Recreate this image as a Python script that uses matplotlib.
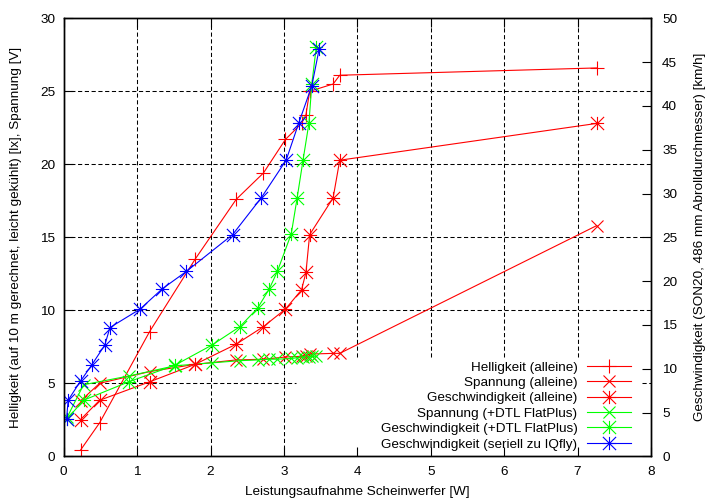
import numpy as np
import matplotlib
matplotlib.use("Agg")
import matplotlib.pyplot as plt
from matplotlib.path import Path

plt.rcParams['font.family'] = ['Liberation Sans', 'DejaVu Sans']
plt.rcParams['font.size'] = 9.7

# ---- data ----
# power [W] for measurements "alleine"
x_alleine = [0.23, 0.49, 1.17, 1.79, 2.35, 2.72, 3.02, 3.24, 3.30, 3.35, 3.67, 3.76, 7.26]
helligkeit_alleine = [0.43, 2.30, 8.54, 13.5, 17.6, 19.4, 21.7, 22.8, 23.4, 25.0, 25.5, 26.1, 26.6]
spannung_alleine = [3.8, 5.0, 5.8, 6.3, 6.6, 6.65, 6.8, 6.85, 6.9, 7.0, 7.05, 7.05, 15.8]
geschw_alleine = [4.2, 6.4, 8.5, 10.5, 12.8, 14.8, 16.8, 19.0, 21.0, 25.3, 29.5, 33.8, 38.0]

# power [W] for measurements with DTL FlatPlus
x_dtl = [0.05, 0.27, 0.885, 1.515, 2.02, 2.40, 2.64, 2.80, 2.91, 3.10, 3.18, 3.26, 3.34, 3.38, 3.44]
spannung_dtl = [2.7, 4.9, 5.5, 6.2, 6.4, 6.55, 6.6, 6.65, 6.65, 6.7, 6.75, 6.8, 6.8, 6.85, 6.85]
geschw_dtl = [4.3, 6.4, 8.5, 10.4, 12.7, 14.8, 16.9, 19.1, 21.1, 25.4, 29.5, 33.8, 38.0, 42.5, 46.7]

# power [W] in series with IQfly
x_iq = [0.04, 0.06, 0.23, 0.38, 0.56, 0.63, 1.04, 1.34, 1.67, 2.30, 2.69, 3.03, 3.20, 3.38, 3.48]
geschw_iq = [4.3, 6.4, 8.6, 10.4, 12.7, 14.7, 16.8, 19.1, 21.1, 25.3, 29.5, 33.8, 38.0, 42.3, 46.5]

labels = ["Helligkeit (alleine)", "Spannung (alleine)", "Geschwindigkeit (alleine)",
          "Spannung (+DTL FlatPlus)", "Geschwindigkeit (+DTL FlatPlus)",
          "Geschwindigkeit (seriell zu IQfly)"]

# gnuplot-style star marker (+ and x combined)
star = Path([(-1, 0), (1, 0), (0, -1), (0, 1), (-1, -1), (1, 1), (-1, 1), (1, -1)],
            [Path.MOVETO, Path.LINETO] * 4)

RED, GREEN, BLUE = '#ff0000', '#00ff00', '#0000ff'
lw = 0.8
ms = 9.5
mew = 0.8
FS = 9.7

fig = plt.figure(figsize=(7.13, 5.0), dpi=100)
AX_L, AX_R, AX_T, AX_B = 63.7, 651.0, 18.3, 456.3
W = AX_R - AX_L
H = AX_B - AX_T
ax = fig.add_axes([AX_L / 713, 1 - AX_B / 500, W / 713, H / 500])
ax2 = ax.twinx()

ax.set_xlim(0, 8)
ax.set_ylim(0, 30)
ax2.set_ylim(0, 50)
ax.set_xticks(range(0, 9))
ax.set_yticks(range(0, 31, 5))
ax2.set_yticks(range(0, 51, 5))

# grid (blanked behind the key region like gnuplot)
gkw = dict(color='black', lw=0.75, ls=(0, (4, 2.5)), zorder=0.5)
key_x0, key_y1 = 3.17, 6.82
for xv in range(1, 8):
    y0 = key_y1 if xv >= 4 else 0
    ax.plot([xv, xv], [y0, 30], **gkw)
for yv in range(5, 30, 5):
    if yv <= key_y1:
        ax.plot([0, key_x0], [yv, yv], **gkw)
        ax.plot([7.88, 8], [yv, yv], **gkw)
    else:
        ax.plot([0, 8], [yv, yv], **gkw)

h1, = ax.plot(x_alleine, helligkeit_alleine, color=RED, lw=lw, marker='+', ms=ms, mew=mew)
h2, = ax.plot(x_alleine, spannung_alleine, color=RED, lw=lw, marker='x', ms=ms * 0.95, mew=mew)
h3, = ax2.plot(x_alleine, geschw_alleine, color=RED, lw=lw, marker=star, ms=ms, mew=mew, mfc='none')
h4, = ax.plot(x_dtl, spannung_dtl, color=GREEN, lw=lw, marker='x', ms=ms * 0.95, mew=mew)
h5, = ax2.plot(x_dtl, geschw_dtl, color=GREEN, lw=lw, marker=star, ms=ms, mew=mew, mfc='none')
h6, = ax2.plot(x_iq, geschw_iq, color=BLUE, lw=lw, marker=star, ms=ms, mew=mew, mfc='none')

for a in (ax, ax2):
    for s in a.spines.values():
        s.set_linewidth(1.0)
ax.tick_params(axis='x', direction='in', length=6.5, width=0.8, top=True, pad=7, labelsize=FS)
ax.tick_params(axis='y', direction='in', length=6.5, width=0.8, right=False, pad=6, labelsize=FS)
ax2.tick_params(axis='y', direction='in', length=6.5, width=0.8, pad=8, labelsize=FS)

ax.set_xlabel("Leistungsaufnahme Scheinwerfer [W]", fontsize=FS)
ax.xaxis.label.set_va('center')
ax.xaxis.set_label_coords(0.5, (AX_B - 491.5) / H)
ax.set_ylabel("Helligkeit (auf 10 m gerechnet, leicht gekühlt) [lx], Spannung [V]", fontsize=FS)
ax.yaxis.label.set_va('center')
ax.yaxis.set_label_coords((16 - AX_L) / W, 0.5)
ax2.set_ylabel("Geschwindigkeit (SON20, 486 mm Abrolldurchmesser) [km/h]", rotation=90, fontsize=FS)
ax2.yaxis.label.set_va('center')
ax2.yaxis.set_label_coords((699.5 - AX_L) / W, 0.5)

leg = ax2.legend([h1, h2, h3, h4, h5, h6], labels, loc='lower right',
                 bbox_to_anchor=((631 - AX_L) / W, (AX_B - 450.5) / H), markerfirst=False,
                 frameon=False, handlelength=3.3, handletextpad=0.67, labelspacing=0.22,
                 borderpad=0, borderaxespad=0, fontsize=FS)

fig.savefig("out.png", dpi=100)
